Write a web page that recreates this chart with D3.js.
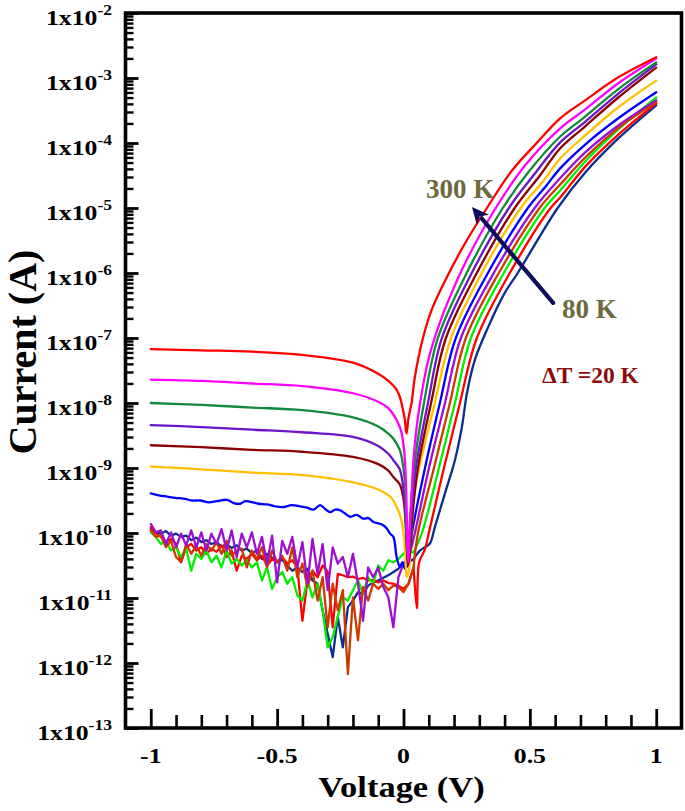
<!DOCTYPE html>
<html><head><meta charset="utf-8">
<script src="https://cdn.jsdelivr.net/npm/d3@7"></script>
<style>html,body{margin:0;padding:0;background:#fff;} svg{display:block;}</style>
</head><body><svg id="chart" width="685" height="811"></svg>
<script>
// ---------------- DATA (currents stored as log10 of current in A) ----------------
const temps = [80,100,120,140,160,180,200,220,240,260,280,300];
const colors = {300:"#ff0000",280:"#ff00ff",260:"#12893c",240:"#6c14c8",220:"#8b0000",200:"#ffc000",
                180:"#0000ff",160:"#9c10d0",140:"#cc3a00",120:"#00ee00",100:"#ff0000",80:"#0a2f8f"};

const V300 = [-1,-0.8,-0.6,-0.4,-0.2,-0.1,-0.06,-0.03,-0.015,-0.005,0.005,0.012,0.019,0.026,0.032,0.045,0.077,0.111,0.18,0.25,0.33,0.43,0.527,0.62,0.72,0.85,1.0];
const L300 = [-7.17,-7.19,-7.21,-7.26,-7.38,-7.55,-7.66,-7.78,-7.90,-8.05,-8.25,-8.47,-8.25,-8.11,-8.0,-7.60,-7.0,-6.57,-6.0,-5.5,-5.0,-4.42,-4.0,-3.62,-3.34,-2.99,-2.68];

const V280 = [-1,-0.8,-0.6,-0.4,-0.2,-0.1,-0.06,-0.04,-0.02,-0.007,0.0,0.006,0.011,0.015,0.019,0.024,0.032,0.039,0.052,0.072,0.098,0.137,0.19,0.25,0.365,0.48,0.62,0.72,0.85,1.0];
const L280 = [-7.64,-7.66,-7.70,-7.74,-7.85,-7.98,-8.08,-8.18,-8.32,-8.47,-8.65,-8.90,-9.4,-10.1,-10.45,-9.95,-9.4,-8.9,-8.37,-7.85,-7.34,-6.84,-6.31,-5.80,-5.0,-4.35,-3.775,-3.48,-3.08,-2.70];

const V260 = [-1,-0.8,-0.6,-0.4,-0.2,-0.1,-0.06,-0.04,-0.015,-0.005,0.004,0.011,0.017,0.022,0.028,0.0415,0.081,0.136,0.25,0.393,0.50,0.62,0.72,0.85,1.0];
const L260 = [-8.00,-8.03,-8.07,-8.11,-8.22,-8.36,-8.47,-8.55,-8.72,-8.88,-9.15,-9.8,-10.35,-10.2,-9.7,-9.0,-8.0,-7.0,-6.0,-5.0,-4.42,-3.90,-3.59,-3.17,-2.76];

const V240 = [-1,-0.8,-0.6,-0.4,-0.2,-0.1,-0.06,-0.04,-0.015,-0.001,0.006,0.012,0.018,0.024,0.032,0.049,0.0968,0.152,0.27,0.417,0.52,0.62,0.72,0.85,1.0];
const L240 = [-8.34,-8.37,-8.41,-8.45,-8.52,-8.66,-8.78,-8.88,-9.02,-9.30,-9.6,-10.1,-10.45,-10.25,-9.7,-9.0,-8.0,-7.0,-6.0,-5.0,-4.47,-3.99,-3.67,-3.24,-2.79];

const V220 = [-1,-0.8,-0.6,-0.4,-0.2,-0.1,-0.06,-0.04,-0.015,-0.001,0.006,0.012,0.018,0.026,0.036,0.057,0.109,0.168,0.29,0.44,0.54,0.62,0.72,0.85,1.0];
const L220 = [-8.65,-8.68,-8.72,-8.75,-8.83,-8.94,-9.04,-9.14,-9.25,-9.45,-9.7,-10.1,-10.5,-10.3,-9.7,-9.0,-8.0,-7.0,-6.0,-5.0,-4.5,-4.08,-3.74,-3.30,-2.84];

const V200 = [-1,-0.8,-0.6,-0.4,-0.2,-0.1,-0.05,-0.027,-0.012,-0.001,0.007,0.0126,0.02,0.03,0.042,0.062,0.124,0.188,0.31,0.464,0.55,0.62,0.72,0.85,1.0];
const L200 = [-8.98,-9.02,-9.07,-9.11,-9.22,-9.33,-9.45,-9.60,-9.75,-9.96,-10.3,-10.68,-10.6,-10.1,-9.45,-9.0,-8.0,-7.0,-6.0,-5.0,-4.6,-4.24,-3.88,-3.45,-3.04];

const V180 = [-1.0,-0.968,-0.935,-0.903,-0.870,-0.837,-0.804,-0.771,-0.738,-0.698,-0.672,-0.646,-0.626,-0.606,-0.573,-0.540,-0.507,-0.475,-0.442,-0.409,-0.382,-0.356,-0.330,-0.310,-0.290,-0.270,-0.251,-0.231,-0.211,-0.185,-0.159,-0.139,-0.119,-0.100,-0.080,-0.066,-0.053,-0.040,-0.027,-0.014,-0.004,0.006,0.015,0.025,0.0336,0.085,0.144,0.207,0.334,0.492,0.56,0.62,0.72,0.85,1.0];
const L180 = [-9.39,-9.42,-9.44,-9.46,-9.47,-9.50,-9.50,-9.53,-9.51,-9.49,-9.54,-9.55,-9.51,-9.52,-9.55,-9.56,-9.59,-9.60,-9.57,-9.59,-9.61,-9.64,-9.57,-9.63,-9.68,-9.64,-9.65,-9.70,-9.75,-9.72,-9.78,-9.77,-9.83,-9.85,-9.88,-9.93,-10.01,-10.06,-10.37,-10.52,-10.45,-10.55,-10.5,-10.3,-10.0,-9.0,-8.0,-7.0,-6.0,-5.0,-4.68,-4.39,-4.02,-3.62,-3.22];

// noisy low-temperature reverse branches on a common voltage grid
const vNoise = [-1.00,-0.98,-0.96,-0.94,-0.92,-0.90,-0.88,-0.86,-0.84,-0.82,-0.80,-0.78,-0.76,-0.74,-0.72,-0.70,-0.68,-0.66,-0.64,-0.62,-0.60,-0.58,-0.56,-0.54,-0.52,-0.50,-0.48,-0.46,-0.44,-0.42,-0.40,-0.38,-0.36,-0.34,-0.32,-0.30,-0.28,-0.26,-0.24,-0.22,-0.20,-0.18,-0.16,-0.14,-0.12,-0.10,-0.08,-0.06,-0.04,-0.02,0.00,0.02,0.04];

const L160n = [-9.86,-9.99,-9.96,-10.17,-9.99,-10.22,-10.01,-10.19,-9.96,-10.22,-9.99,-10.27,-10.01,-10.17,-9.94,-10.27,-9.96,-10.37,-10.01,-10.22,-9.99,-10.32,-10.06,-10.47,-10.04,-10.76,-10.12,-10.32,-10.06,-10.53,-10.14,-10.78,-10.09,-10.63,-10.17,-10.88,-10.22,-10.47,-10.37,-10.68,-10.32,-10.78,-11.35,-10.53,-10.68,-10.53,-10.83,-10.99,-11.45,-10.68,-10.47,-10.40];
const V160f = [0.045,0.1007,0.164,0.227,0.357,0.519,0.62,0.72,0.85,1.0];
const L160f = [-10,-9,-8,-7,-6,-5,-4.54,-4.14,-3.73,-3.34];

const L140n = [-9.96,-10.06,-10.04,-10.22,-10.12,-10.37,-10.45,-10.17,-10.32,-10.19,-10.35,-10.17,-10.27,-10.14,-10.32,-10.12,-10.35,-10.27,-10.24,-10.53,-10.27,-10.40,-10.22,-10.53,-10.27,-10.45,-10.35,-10.58,-10.22,-10.68,-10.47,-10.83,-10.58,-11.04,-10.68,-11.45,-10.78,-11.19,-10.88,-12.17,-10.99,-11.65,-10.83,-11.04,-10.78,-10.86,-10.78,-10.88,-10.81,-10.83,-10.91,-10.78,-10.53];
const V140f = [0.0573,0.1205,0.1836,0.2468,0.3772,0.5387,0.62,0.72,0.85,1.0];
const L140f = [-10,-9,-8,-7,-6,-5,-4.64,-4.22,-3.77,-3.37];

const L120n = [-9.99,-10.06,-10.17,-10.12,-10.27,-10.22,-10.37,-10.24,-10.58,-10.32,-10.40,-10.27,-10.45,-10.35,-10.53,-10.27,-10.47,-10.40,-10.50,-10.42,-10.53,-10.45,-10.73,-10.53,-10.86,-10.68,-10.60,-10.78,-10.68,-10.96,-11.04,-10.73,-10.99,-10.78,-11.19,-11.76,-11.60,-11.29,-10.99,-11.04,-10.88,-10.73,-10.94,-10.68,-10.78,-10.50,-10.58,-10.42,-10.45,-10.40,-10.32,-10.27,-10.30];
const V120f = [0.073,0.1402,0.2034,0.2666,0.3969,0.5584,0.62,0.72,0.85,1.0];
const L120f = [-10,-9,-8,-7,-6,-5,-4.73,-4.28,-3.79,-3.30];

const L100n = [-9.91,-10.01,-10.06,-10.14,-10.09,-10.17,-10.45,-10.22,-10.17,-10.27,-10.22,-10.32,-10.24,-10.29,-10.19,-10.37,-10.27,-10.58,-10.35,-10.40,-10.32,-10.42,-10.35,-10.50,-10.40,-10.45,-10.37,-10.47,-10.42,-10.53,-11.35,-10.73,-10.58,-10.68,-10.50,-10.60,-11.45,-10.63,-10.65,-10.68,-10.67,-10.71,-10.69,-10.73,-10.72,-10.76,-10.73,-10.77,-10.78,-10.81,-10.86,-10.78,-10.53];
const V100f = [0.053,0.062,0.085,0.10,0.16,0.2231,0.2903,0.4206,0.5821,0.62,0.72,0.85,1.0];
const L100f = [-11.16,-10.45,-10.25,-10.0,-9.0,-8.0,-7.0,-6.0,-5.0,-4.84,-4.36,-3.87,-3.39];

const L80n = [-9.94,-9.99,-10.01,-9.97,-10.04,-10.01,-10.06,-10.04,-10.11,-10.07,-10.14,-10.11,-10.17,-10.14,-10.21,-10.17,-10.23,-10.19,-10.27,-10.24,-10.31,-10.27,-10.40,-10.32,-10.38,-10.45,-10.41,-10.50,-10.58,-10.53,-10.60,-10.55,-10.73,-10.78,-11.19,-11.55,-11.91,-11.29,-11.76,-11.14,-11.04,-10.91,-10.94,-10.81,-10.76,-10.73,-10.69,-10.65,-10.60,-10.55,-10.47,-10.45,-10.40];
const V80f = [0.065,0.085,0.105,0.124,0.164,0.2034,0.231,0.251,0.282,0.334,0.40,0.452,0.61,0.72,0.85,1.0];
const L80f = [-10.27,-10.22,-10.16,-9.91,-9.39,-8.88,-8.37,-7.85,-7.34,-6.84,-6.31,-6.0,-5.0,-4.45,-3.93,-3.42];

// axis ticks
const yMajorExp = [-13,-12,-11,-10,-9,-8,-7,-6,-5,-4,-3,-2];
const yMinorMult = [2,3,4,5,6,7,8,9];
const xMajor = [-1,-0.5,0,0.5,1];
const xMinor = [-0.9,-0.8,-0.7,-0.6,-0.4,-0.3,-0.2,-0.1,0.1,0.2,0.3,0.4,0.6,0.7,0.8,0.9];

// annotations (data coordinates)
const annHi = {text:"300 K", V:0.089, I:1.43e-5};
const annLo = {text:"80 K", V:0.627, I:2.04e-7};
const annDT = {text:"\u0394T =20 K", V:0.548, I:2.04e-8};
const arrowFrom = {V:0.592, I:3.47e-7};
const arrowTo = {V:0.271, I:1.035e-5};

// ---------------- BUILD ----------------
function zip(v, l){ const n=Math.min(v.length,l.length); const out=[]; for(let i=0;i<n;i++) out.push([v[i],l[i]]); return out; }
const smooth = {
  300: zip(V300,L300), 280: zip(V280,L280), 260: zip(V260,L260), 240: zip(V240,L240),
  220: zip(V220,L220), 200: zip(V200,L200), 180: zip(V180,L180)
};
const noisy = {
  160: [zip(vNoise,L160n), zip(V160f,L160f)],
  140: [zip(vNoise,L140n), zip(V140f,L140f)],
  120: [zip(vNoise,L120n), zip(V120f,L120f)],
  100: [zip(vNoise,L100n), zip(V100f,L100f)],
  80:  [zip(vNoise,L80n),  zip(V80f,L80f)]
};

const svg = d3.select("#chart");
const FONT = "'Liberation Serif','Times New Roman',Times,serif";
const x = d3.scaleLinear().domain([-1.1,1.1]).range([125.5,681.5]);
const y = d3.scaleLog().domain([1e-13,1e-2]).range([728,13]);
const SX = 1.17;

const px = d=>x(d[0]), py = d=>y(Math.pow(10,d[1]));
const lineSmooth = d3.line().x(px).y(py).curve(d3.curveCatmullRom.alpha(0.5));
const lineNoise  = d3.line().x(px).y(py).curve(d3.curveLinear);

function pathFor(t){
  if (smooth[t]) return lineSmooth(smooth[t]);
  const [rev, fwd] = noisy[t];
  return lineNoise(rev) + lineSmooth([rev[rev.length-1]].concat(fwd)).replace(/^M/,"L");
}

svg.append("g").selectAll("path").data(temps).join("path")
  .attr("d", pathFor)
  .attr("fill","none").attr("stroke", t=>colors[t])
  .attr("stroke-width",2.3).attr("stroke-linejoin","round").attr("stroke-linecap","round");

// axes ticks
const x0 = x.range()[0], yB = y.range()[0];
const yMinorVals = [];
yMajorExp.slice(0,-1).forEach(e=>yMinorMult.forEach(m=>yMinorVals.push(m*Math.pow(10,e))));
function styleAxis(g, w){ g.select(".domain").remove(); g.selectAll("line").attr("stroke","#000").attr("stroke-width",w); }
svg.append("g").attr("transform",`translate(${x0},0)`)
  .call(d3.axisLeft(y).tickValues(yMajorExp.map(e=>Math.pow(10,e))).tickSize(-13).tickFormat(""))
  .call(g=>styleAxis(g,2.8));
svg.append("g").attr("transform",`translate(${x0},0)`)
  .call(d3.axisLeft(y).tickValues(yMinorVals).tickSize(-8).tickFormat(""))
  .call(g=>styleAxis(g,2.4));
svg.append("g").attr("transform",`translate(0,${yB})`)
  .call(d3.axisBottom(x).tickValues(xMajor).tickSize(-19).tickFormat(""))
  .call(g=>styleAxis(g,2.8));
svg.append("g").attr("transform",`translate(0,${yB})`)
  .call(d3.axisBottom(x).tickValues(xMinor).tickSize(-13).tickFormat(""))
  .call(g=>styleAxis(g,2.6));

// frame
svg.append("rect").attr("x",x.range()[0]).attr("y",y.range()[1])
  .attr("width",x.range()[1]-x.range()[0]).attr("height",y.range()[0]-y.range()[1])
  .attr("fill","none").attr("stroke","#000").attr("stroke-width",3.6);

// y tick labels
const yl = svg.append("g").attr("font-family",FONT).attr("font-weight","bold").attr("fill","#000");
yMajorExp.forEach(e=>{
  const t = yl.append("text").attr("text-anchor","end")
    .attr("transform",`translate(112,${y(Math.pow(10,e))+11.5}) scale(${SX},1)`)
    .attr("font-size",22);
  t.append("tspan").text("1x10");
  t.append("tspan").attr("dy",-10).attr("font-size",15).text(String(e));
});
// x tick labels
xMajor.forEach(v=>{
  yl.append("text").attr("text-anchor","middle")
    .attr("transform",`translate(${x(v)},763) scale(${SX},1)`)
    .attr("font-size",22).text(String(v));
});
// titles
yl.append("text").attr("text-anchor","middle")
  .attr("transform",`translate(${(x.range()[0]+x.range()[1])/2 - 2},797) scale(1.15,1)`)
  .attr("font-size",30).text("Voltage (V)");
yl.append("text").attr("text-anchor","middle")
  .attr("transform",`translate(36,352) rotate(-90)`)
  .attr("font-size",40).text("Current (A)");

// annotations
const an = svg.append("g").attr("font-family",FONT).attr("font-weight","bold");
an.append("text").attr("x",x(annHi.V)).attr("y",y(annHi.I)).attr("font-size",27).attr("fill","#6d6a3e").text(annHi.text);
an.append("text").attr("x",x(annLo.V)).attr("y",y(annLo.I)).attr("font-size",27).attr("fill","#6d6a3e").text(annLo.text);
an.append("text").attr("x",x(annDT.V)).attr("y",y(annDT.I)).attr("font-size",23.5).attr("fill","#8b0a0a").text(annDT.text);

// arrow
const p1=[x(arrowFrom.V),y(arrowFrom.I)], p0=[x(arrowTo.V),y(arrowTo.I)];
const dx=p0[0]-p1[0], dy=p0[1]-p1[1], len=Math.hypot(dx,dy), ux=dx/len, uy=dy/len;
const headL=17, headW=8;
const base=[p0[0]-ux*headL, p0[1]-uy*headL];
svg.append("line").attr("x1",p1[0]).attr("y1",p1[1]).attr("x2",base[0]+ux*2).attr("y2",base[1]+uy*2)
  .attr("stroke","#0d0d5c").attr("stroke-width",4.2).attr("stroke-linecap","round");
svg.append("path").attr("d",`M${p0[0]},${p0[1]}L${base[0]-uy*headW},${base[1]+ux*headW}L${base[0]+ux*5},${base[1]+uy*5}L${base[0]+uy*headW},${base[1]-ux*headW}Z`)
  .attr("fill","#0d0d5c");
</script></body></html>
